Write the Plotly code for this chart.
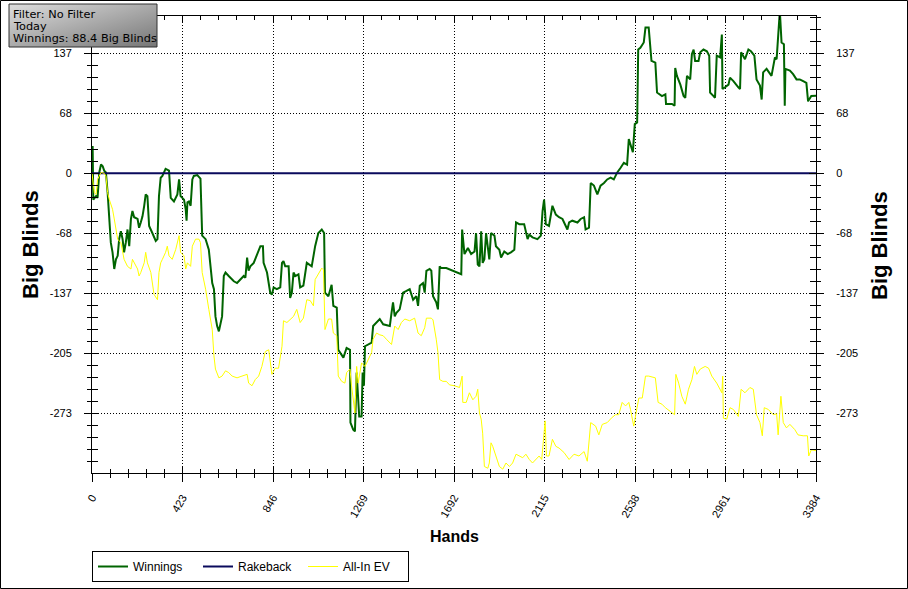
import base64
import plotly.graph_objects as go

# ---------------- data ----------------
win_hands = [0, 3, 6, 19, 26, 34, 42, 50, 57, 65, 73, 81, 88, 96, 104, 112, 120, 127, 135, 143,
             150, 158, 166, 174, 182, 189, 197, 213, 220, 228, 236, 244, 251, 259, 267, 282, 298, 306, 313, 321,
             329, 344, 360, 368, 383, 399, 407, 414, 430, 438, 442, 446, 453, 461, 469, 476, 492, 507, 515, 531,
             546, 562, 570, 577, 585, 593, 601, 608, 616, 624, 639, 663, 678, 694, 709, 717, 725, 732, 740, 756,
             787, 799, 802, 818, 833, 841, 849, 864, 880, 888, 895, 903, 919, 926, 934, 942, 950, 965, 973, 988,
             1004, 1027, 1043, 1058, 1074, 1085, 1089, 1105, 1120, 1128, 1144, 1151, 1175, 1190, 1206, 1208, 1221, 1229, 1237, 1249,
             1260, 1265, 1271, 1276, 1291, 1307, 1314, 1330, 1345, 1361, 1392, 1400, 1407, 1415, 1423, 1438, 1454, 1470, 1485, 1501,
             1516, 1524, 1532, 1547, 1555, 1563, 1578, 1586, 1594, 1609, 1617, 1625, 1632, 1656, 1687, 1726, 1730, 1741, 1757, 1772,
             1788, 1795, 1803, 1811, 1819, 1826, 1834, 1842, 1857, 1865, 1881, 1888, 1904, 1912, 1927, 1943, 1958, 1974, 1982, 1997,
             2020, 2036, 2044, 2059, 2082, 2098, 2106, 2113, 2118, 2121, 2136, 2144, 2152, 2168, 2183, 2199, 2222, 2230, 2245, 2269,
             2284, 2300, 2307, 2323, 2331, 2346, 2362, 2377, 2393, 2408, 2424, 2439, 2455, 2470, 2486, 2501, 2509, 2528, 2537, 2548,
             2553, 2563, 2579, 2587, 2602, 2615, 2633, 2641, 2664, 2680, 2683, 2711, 2723, 2726, 2734, 2750, 2765, 2773, 2781, 2796,
             2804, 2812, 2819, 2835, 2843, 2858, 2874, 2885, 2889, 2905, 2912, 2920, 2936, 2944, 2947, 2959, 2975, 2982, 2998, 3021,
             3029, 3034, 3052, 3068, 3080, 3096, 3106, 3122, 3130, 3137, 3153, 3176, 3192, 3200, 3207, 3215, 3223, 3234, 3238, 3241,
             3262, 3277, 3293, 3308, 3324, 3339, 3347, 3362, 3384]
win_values = [0, 31, -30, -26, -28, 1, 10, 8, 3, 1, -22, -49, -79, -90, -109, -98, -94, -75, -66, -75,
              -90, -79, -64, -83, -52, -43, -50, -52, -62, -56, -49, -37, -24, -26, -60, -68, -77, -75, -26, -5,
              -3, 5, 3, -28, -32, -24, -7, -26, -30, -41, -54, -33, -32, -37, -7, -3, -2, -6, -71, -75,
              -87, -125, -132, -163, -174, -180, -170, -163, -117, -113, -117, -123, -125, -121, -117, -119, -96, -111, -106, -102,
              -83, -83, -102, -113, -136, -138, -130, -132, -130, -102, -100, -106, -106, -142, -136, -113, -117, -115, -130, -128,
              -102, -106, -83, -68, -64, -68, -136, -140, -127, -151, -153, -201, -210, -199, -201, -284, -292, -294, -227, -277,
              -277, -227, -242, -197, -195, -193, -174, -170, -166, -172, -174, -159, -147, -163, -159, -155, -136, -134, -132, -144,
              -140, -151, -128, -125, -136, -111, -109, -111, -140, -147, -155, -106, -108, -108, -111, -115, -64, -92, -85, -92,
              -89, -68, -104, -106, -66, -102, -98, -68, -98, -68, -71, -83, -87, -96, -89, -92, -90, -87, -56, -58,
              -58, -75, -70, -73, -75, -71, -43, -30, -45, -58, -60, -47, -37, -47, -50, -52, -64, -56, -54, -56,
              -52, -50, -64, -62, -11, -14, -24, -14, -11, -7, -5, -7, 1, 6, 12, 10, 39, 24, 56, 58,
              141, 143, 149, 166, 166, 128, 126, 92, 88, 90, 79, 79, 77, 120, 111, 101, 88, 86, 111, 107,
              136, 141, 128, 128, 138, 141, 139, 134, 92, 88, 86, 134, 132, 158, 96, 98, 101, 109, 105, 98,
              96, 138, 130, 141, 139, 134, 107, 100, 84, 115, 119, 111, 132, 130, 157, 185, 149, 147, 77, 119,
              117, 113, 107, 107, 105, 103, 82, 88, 88.4]

ev_hands = [0, 11, 19, 26, 42, 57, 65, 73, 81, 96, 104, 112, 120, 135, 143, 150, 166, 182, 189, 197,
            213, 220, 228, 244, 251, 259, 275, 290, 306, 313, 321, 329, 344, 352, 360, 375, 391, 407, 414, 430,
            438, 446, 461, 469, 484, 500, 507, 515, 531, 546, 562, 570, 577, 593, 608, 624, 639, 655, 678, 701,
            725, 732, 748, 763, 779, 794, 810, 826, 841, 856, 872, 888, 895, 911, 926, 942, 957, 973, 988, 1004,
            1020, 1035, 1043, 1058, 1074, 1082, 1089, 1105, 1120, 1128, 1144, 1151, 1167, 1182, 1190, 1206, 1213, 1229, 1237, 1244,
            1260, 1276, 1291, 1307, 1314, 1330, 1345, 1361, 1376, 1400, 1415, 1431, 1446, 1462, 1485, 1508, 1524, 1539, 1555, 1563,
            1586, 1594, 1609, 1617, 1625, 1640, 1656, 1671, 1694, 1718, 1730, 1733, 1749, 1764, 1780, 1795, 1803, 1811, 1819, 1826,
            1834, 1850, 1857, 1865, 1873, 1888, 1904, 1920, 1935, 1951, 1966, 1982, 1997, 2013, 2028, 2044, 2059, 2075, 2090, 2102,
            2114, 2118, 2124, 2136, 2152, 2168, 2183, 2206, 2230, 2253, 2276, 2300, 2315, 2331, 2354, 2369, 2385, 2408, 2431, 2447,
            2462, 2478, 2494, 2509, 2517, 2532, 2543, 2556, 2572, 2587, 2602, 2633, 2646, 2664, 2680, 2711, 2723, 2729, 2742, 2757,
            2773, 2788, 2804, 2816, 2827, 2843, 2866, 2882, 2897, 2920, 2944, 2948, 2951, 2967, 2982, 2998, 3021, 3034, 3052, 3075,
            3091, 3106, 3122, 3133, 3142, 3161, 3184, 3200, 3207, 3220, 3231, 3246, 3262, 3285, 3300, 3324, 3344, 3350, 3362, 3384]
ev_values = [0, -22, -24, -7, 1, 0, -3, -22, -30, -41, -52, -64, -75, -79, -90, -98, -106, -109, -98, -102,
             -109, -117, -113, -102, -90, -102, -113, -138, -144, -113, -102, -98, -90, -83, -94, -98, -87, -71, -90, -94,
             -109, -102, -106, -83, -75, -75, -79, -113, -132, -155, -178, -208, -223, -233, -231, -225, -227, -231, -233, -231,
             -229, -239, -242, -235, -231, -220, -203, -201, -229, -222, -222, -197, -168, -170, -166, -163, -155, -170, -165, -144,
             -145, -151, -121, -115, -108, -110, -178, -166, -166, -182, -185, -231, -237, -239, -227, -223, -242, -273, -220, -239,
             -216, -220, -212, -204, -189, -182, -184, -185, -189, -195, -174, -178, -170, -166, -168, -165, -182, -185, -176, -165,
             -165, -167, -189, -204, -235, -237, -237, -241, -242, -244, -231, -261, -261, -250, -258, -254, -246, -273, -280, -296,
             -334, -336, -330, -307, -311, -322, -334, -337, -330, -334, -330, -320, -322, -324, -320, -326, -330, -326, -322, -326,
             -292, -282, -322, -322, -303, -311, -313, -318, -326, -320, -322, -317, -328, -284, -288, -298, -286, -284, -278, -275,
             -275, -261, -265, -261, -269, -288, -273, -256, -256, -231, -231, -233, -261, -263, -267, -273, -275, -229, -239, -254,
             -263, -246, -235, -220, -229, -223, -220, -222, -231, -239, -250, -231, -279, -280, -267, -269, -277, -246, -250, -244,
             -246, -275, -284, -299, -267, -269, -275, -274, -298, -254, -284, -290, -286, -292, -298, -299, -299, -322, -315, -316]

rake_hands = [0, 3384]
rake_values = [0, 0]

y_tick_vals = [-273.4, -205.05, -136.7, -68.35, 0, 68.35, 136.7]
y_tick_text = ["-273", "-205", "-137", "-68", "0", "68", "137"]

info_lines = ["Filter: No Filter", "Today", "Winnings: 88.4 Big Blinds"]

# ---------------- geometry helpers ----------------
W, H = 908, 589
ML, MR, MT, MB = 92, 92, 16, 116
PW, PH = W - ML - MR, H - MT - MB


def px(x):
    return (x - ML) / PW


def py(y):
    return (H - MB - y) / PH


XR = [0, 3384]
YR = [-341.4, 179.2]
FONT = "Liberation Sans, Arial, sans-serif"
DOTS = "1px,2px"

fig = go.Figure()
fig.add_trace(go.Scatter(x=win_hands, y=win_values, mode="lines", name="Winnings",
                         line=dict(color="#006400", width=2), hoverinfo="skip"))
fig.add_trace(go.Scatter(x=rake_hands, y=rake_values, mode="lines", name="Rakeback",
                         line=dict(color="#0a0a5c", width=2), hoverinfo="skip"))
fig.add_trace(go.Scatter(x=ev_hands, y=ev_values, mode="lines", name="All-In EV",
                         line=dict(color="#ffff00", width=1), hoverinfo="skip"))
# helper traces so the overlay axes are drawn
fig.add_trace(go.Scatter(x=[0], y=[0], mode="lines", xaxis="x", yaxis="y2", showlegend=False,
                         hoverinfo="skip", line=dict(width=0)))
fig.add_trace(go.Scatter(x=[0], y=[0], mode="lines", xaxis="x2", yaxis="y3", showlegend=False,
                         hoverinfo="skip", line=dict(width=0)))

tickfont = dict(family=FONT, size=11, color="black")
common_y = dict(range=YR, tickmode="array", tickvals=y_tick_vals, ticktext=y_tick_text,
                showline=True, linecolor="black", linewidth=1, zeroline=False,
                tickcolor="black", tickfont=tickfont, fixedrange=True)

fig.update_layout(
    width=W, height=H,
    margin=dict(l=ML, r=MR, t=MT, b=MB, autoexpand=False),
    paper_bgcolor="white", plot_bgcolor="white",
    showlegend=True,
    legend=dict(orientation="h", x=0, xanchor="left", y=py(551), yanchor="top",
                bgcolor="white", bordercolor="black", borderwidth=1,
                font=dict(family=FONT, size=12, color="black"),
                entrywidth=60, entrywidthmode="pixels", tracegroupgap=0),
    xaxis=dict(range=XR, tickmode="linear", tick0=0, dtick=423, tickangle=-60,
               showline=True, linecolor="black", linewidth=1, zeroline=False,
               ticks="outside", ticklen=8, tickcolor="black", tickfont=tickfont, ticklabelstandoff=5,
               showgrid=True, gridcolor="black", griddash=DOTS, gridwidth=1,
               minor=dict(dtick=84.6, tick0=0, ticks="outside", ticklen=4, tickcolor="black", showgrid=False),
               automargin=False, fixedrange=True),
    xaxis2=dict(range=XR, overlaying="x", side="bottom", tickmode="linear", tick0=0, dtick=423,
                showticklabels=False, showline=True, linecolor="black", mirror="ticks",
                ticks="inside", ticklen=6, tickcolor="black", showgrid=False, zeroline=False,
                minor=dict(dtick=84.6, tick0=0, ticks="inside", ticklen=4, tickcolor="black", showgrid=False),
                automargin=False, fixedrange=True),
    yaxis=dict(**common_y, side="left", ticks="outside", ticklen=7, ticklabelstandoff=10,
               showgrid=True, gridcolor="black", griddash=DOTS, gridwidth=1,
               minor=dict(dtick=13.67, tick0=0, ticks="outside", ticklen=4, tickcolor="black", showgrid=False),
               automargin=False),
    yaxis2=dict(**common_y, side="right", overlaying="y", ticks="outside", ticklen=7, ticklabelstandoff=10,
                showgrid=False,
                minor=dict(dtick=13.67, tick0=0, ticks="outside", ticklen=4, tickcolor="black", showgrid=False),
                automargin=False),
    yaxis3=dict(range=YR, tickmode="array", tickvals=y_tick_vals, side="left", overlaying="y",
                showticklabels=False, showline=True, linecolor="black", mirror="ticks",
                ticks="inside", ticklen=7, tickcolor="black", showgrid=False, zeroline=False,
                minor=dict(dtick=13.67, tick0=0, ticks="inside", ticklen=6, tickcolor="black", showgrid=False),
                automargin=False, fixedrange=True),
)

# axis titles
title_font = dict(family=FONT, size=22, color="black", weight="bold")
fig.add_annotation(text="<b>Big Blinds</b>", xref="paper", yref="paper", x=px(30), y=py(245),
                   xanchor="center", yanchor="middle", textangle=-90, showarrow=False, font=title_font)
fig.add_annotation(text="<b>Big Blinds</b>", xref="paper", yref="paper", x=px(879), y=py(245),
                   xanchor="center", yanchor="middle", textangle=-90, showarrow=False, font=title_font)
fig.add_annotation(text="<b>Hands</b>", xref="paper", yref="paper", x=px(454), y=py(536),
                   xanchor="center", yanchor="middle", showarrow=False,
                   font=dict(family=FONT, size=16, color="black"))

# info box with gradient
svg = ('<svg xmlns="http://www.w3.org/2000/svg" width="148" height="43" preserveAspectRatio="none">'
       '<defs><linearGradient id="g" x1="0" y1="0" x2="1" y2="1">'
       '<stop offset="0" stop-color="#dedede"/><stop offset="1" stop-color="#767676"/>'
       '</linearGradient></defs><rect width="148" height="43" fill="url(#g)"/></svg>')
src = "data:image/svg+xml;base64," + base64.b64encode(svg.encode()).decode()
bx0, bx1, by0, by1 = 9, 157, 4, 47
fig.add_layout_image(source=src, xref="paper", yref="paper", x=px(bx0), y=py(by0),
                     sizex=px(bx1) - px(bx0), sizey=py(by0) - py(by1),
                     xanchor="left", yanchor="top", sizing="stretch", layer="above")
fig.add_shape(type="rect", xref="paper", yref="paper", x0=px(bx0), x1=px(bx1), y0=py(by1), y1=py(by0),
              line=dict(color="#303030", width=1), fillcolor="rgba(0,0,0,0)", layer="above")
for i, line in enumerate(info_lines):
    fig.add_annotation(text=line, xref="paper", yref="paper", x=px(11), y=py(14 + 12 * i),
                       xanchor="left", yanchor="middle", showarrow=False,
                       font=dict(family="DejaVu Sans", size=11.3, color="black"))

# outer frame
fig.add_shape(type="rect", xref="paper", yref="paper",
              x0=px(0.5), x1=px(W - 0.5), y0=py(H - 0.5), y1=py(0.5),
              line=dict(color="black", width=1), fillcolor="rgba(0,0,0,0)", layer="above")

fig.write_html("out.html", config={"displayModeBar": False},
               post_script="document.body.style.margin='0px';document.body.style.overflow='hidden';")
